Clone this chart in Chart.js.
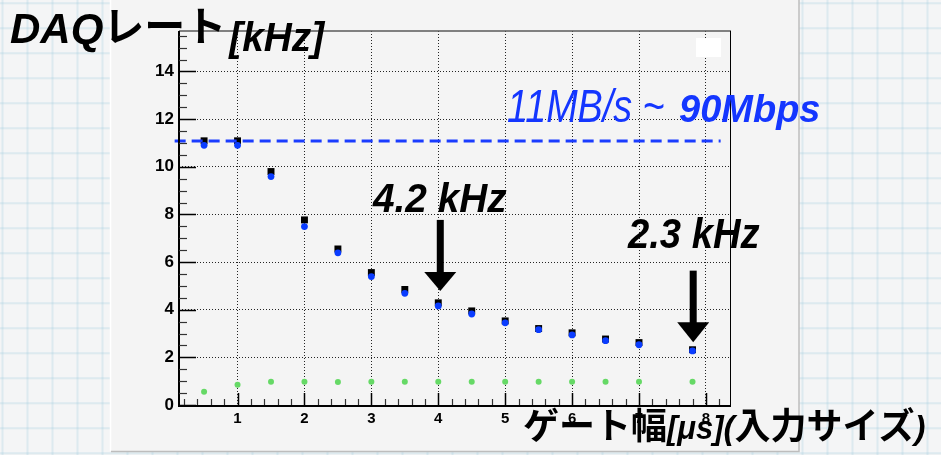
<!DOCTYPE html>
<html>
<head>
<meta charset="utf-8">
<script src="https://cdn.jsdelivr.net/npm/chart.js@4.4.1/dist/chart.umd.min.js"></script>
<style>
  html, body { margin: 0; padding: 0; background: #f4f5f6; }
  canvas { display: block; }
</style>
</head>
<body>
<canvas id="daqChart" width="941" height="455"></canvas>
<script>
// gate width [us]
const gateWidth = [0.5, 1, 1.5, 2, 2.5, 3, 3.5, 4, 4.5, 5, 5.5, 6, 6.5, 7, 7.8];
// DAQ rate [kHz]
const rateBlack = [11.09, 11.09, 9.80, 7.77, 6.55, 5.56, 4.85, 4.29, 3.95, 3.53, 3.21, 3.03, 2.77, 2.62, 2.32];
const rateBlue  = [10.90, 10.90, 9.59, 7.49, 6.39, 5.39, 4.69, 4.16, 3.82, 3.45, 3.16, 2.94, 2.70, 2.53, 2.27];
const rateGreen = [0.56, 0.85, 0.98, 0.98, 0.97, 0.98, 0.98, 0.98, 0.98, 0.98, 0.98, 0.98, 0.98, 0.98, 0.98];
// 11MB/s limit line
const limitX = [0.06, 8.22];
const limitY = [11.08, 11.08];

const xTicks = [1, 2, 3, 4, 5, 6, 7, 8];
const yTicks = [0, 2, 4, 6, 8, 10, 12, 14];

const FONT = '"Liberation Sans", Arial, sans-serif';
const CJK = '"Noto Sans CJK JP", "Noto Sans CJK SC", sans-serif';

function toPoints(xs, ys) {
    return xs.map((x, i) => ({ x: x, y: ys[i] }));
}

// draw a row of text pieces, each with its own font
function drawRun(ctx, x, y, parts, color) {
    let cx = x;
    ctx.fillStyle = color;
    ctx.textBaseline = 'alphabetic';
    ctx.textAlign = 'left';
    for (const p of parts) {
        const sx = p.sx || 1;
        ctx.save();
        ctx.font = p.font;
        ctx.translate(cx, y + (p.dy || 0));
        ctx.scale(sx, 1);
        ctx.fillText(p.text, 0, 0);
        const w = ctx.measureText(p.text).width * sx;
        ctx.restore();
        cx += w + (p.gap || 0);
    }
}

function drawArrow(ctx, x, yTop, yHead, yTip) {
    ctx.fillStyle = '#000';
    ctx.fillRect(x - 3.5, yTop, 7, yHead - yTop + 1);
    ctx.beginPath();
    ctx.moveTo(x - 16, yHead);
    ctx.lineTo(x + 16, yHead);
    ctx.lineTo(x, yTip);
    ctx.closePath();
    ctx.fill();
}

const slidePlugin = {
    id: 'slide',
    beforeDraw(chart) {
        const ctx = chart.ctx;
        const W = chart.width, H = chart.height;
        ctx.save();
        ctx.fillStyle = '#f4f5f6';
        ctx.fillRect(0, 0, W, H);
        // graph paper
        ctx.strokeStyle = 'rgba(160,205,222,0.28)';
        ctx.lineWidth = 2;
        for (let x = 2.5; x < W; x += 25) {
            ctx.beginPath(); ctx.moveTo(x, 0); ctx.lineTo(x, H); ctx.stroke();
        }
        for (let y = 3.3; y < H; y += 25) {
            ctx.beginPath(); ctx.moveTo(0, y); ctx.lineTo(W, y); ctx.stroke();
        }
        // ROOT canvas
        ctx.fillStyle = '#f4f4f4';
        ctx.fillRect(111, 0, 688, 451);
        ctx.strokeStyle = '#ffffff';
        ctx.lineWidth = 1.5;
        ctx.beginPath(); ctx.moveTo(110.5, 0); ctx.lineTo(110.5, 451); ctx.stroke();
        ctx.strokeStyle = '#bdbdbd';
        ctx.beginPath(); ctx.moveTo(799, 0); ctx.lineTo(799, 451.5); ctx.lineTo(111, 451.5); ctx.stroke();
        ctx.restore();
    },
    afterDatasetsDraw(chart) {
        const ctx = chart.ctx;
        const { left, right, top, bottom } = chart.chartArea;
        const xs = chart.scales.x, ys = chart.scales.y;
        ctx.save();
        // frame
        ctx.lineWidth = 1.5;
        ctx.strokeStyle = '#5a5a5a';
        ctx.beginPath(); ctx.moveTo(left, top); ctx.lineTo(right, top); ctx.stroke();
        ctx.lineWidth = 1;
        ctx.strokeStyle = '#000';
        ctx.beginPath(); ctx.moveTo(right - 0.5, top); ctx.lineTo(right - 0.5, bottom); ctx.stroke();
        ctx.lineWidth = 2;
        ctx.beginPath(); ctx.moveTo(left, top); ctx.lineTo(left, bottom + 1); ctx.lineTo(right, bottom + 1); ctx.stroke();

        // y ticks, inside the frame
        for (let i = 0; i <= 31; i++) {
            const v = i * 0.5;
            if (v > ys.max) break;
            const y = Math.round(ys.getPixelForValue(v)) + 0.5;
            const major = i % 4 === 0;
            ctx.strokeStyle = major ? '#000' : '#333';
            ctx.lineWidth = major ? 1.5 : 1.2;
            ctx.beginPath(); ctx.moveTo(left, y); ctx.lineTo(left + (major ? 17 : 8), y); ctx.stroke();
        }
        // x ticks
        for (let i = 1; i <= 41; i++) {
            const v = i * 0.2;
            if (v < xs.min || v > xs.max) continue;
            const x = Math.round(xs.getPixelForValue(v)) + 0.5;
            const major = i % 5 === 0;
            ctx.strokeStyle = major ? '#000' : '#333';
            ctx.lineWidth = major ? 1.5 : 1.2;
            ctx.beginPath(); ctx.moveTo(x, bottom); ctx.lineTo(x, bottom - (major ? 12 : 6)); ctx.stroke();
        }
        // empty legend box
        ctx.fillStyle = '#ffffff';
        ctx.fillRect(right - 35, top + 7, 25, 19);
        ctx.restore();
    },
    afterDraw(chart) {
        const ctx = chart.ctx;
        const xs = chart.scales.x, ys = chart.scales.y;
        ctx.save();

        // arrows
        drawArrow(ctx, xs.getPixelForValue(4.03), ys.getPixelForValue(7.77), ys.getPixelForValue(5.58), ys.getPixelForValue(4.79));
        drawArrow(ctx, xs.getPixelForValue(7.81), ys.getPixelForValue(5.64), ys.getPixelForValue(3.47), ys.getPixelForValue(2.63));

        // annotations
        drawRun(ctx, 373, 211.5, [{ text: '4.2 kHz', font: 'italic bold 40px ' + FONT, sx: 0.97 }], '#000');
        drawRun(ctx, 628, 248, [{ text: '2.3 kHz', font: 'italic bold 42px ' + FONT, sx: 0.91 }], '#000');

        drawRun(ctx, 507, 121.5, [{ text: '11MB/s ~', font: 'italic 46px ' + FONT, sx: 0.82 }], '#1436ff');
        drawRun(ctx, 679, 121.5, [{ text: '90Mbps', font: 'italic bold 38px ' + FONT, sx: 1.0 }], '#1436ff');

        // y title
        drawRun(ctx, 10, 43, [
            { text: 'DAQ', font: 'italic bold 42px ' + FONT },
            { text: 'レート', font: 'bold 41px ' + CJK, dy: -2, gap: 3 },
            { text: '[kHz]', font: 'italic bold 40px ' + FONT, sx: 0.97, dy: 8 }
        ], '#000');

        // x title
        drawRun(ctx, 523, 439, [
            { text: 'ゲート幅', font: 'bold 36px ' + CJK },
            { text: '[μs]', font: 'italic bold 33px ' + FONT, sx: 0.94, dy: 0 },
            { text: '(', font: 'italic bold 33px ' + FONT, dy: 0 },
            { text: '入力サイズ', font: 'bold 36px ' + CJK },
            { text: ')', font: 'italic bold 33px ' + FONT, dy: 0 }
        ], '#000');

        ctx.restore();
    }
};

new Chart(document.getElementById('daqChart').getContext('2d'), {
    type: 'scatter',
    data: {
        datasets: [
            {
                label: 'limit',
                type: 'line',
                data: toPoints(limitX, limitY),
                borderColor: '#1a3cff',
                borderWidth: 3,
                borderDash: [11, 6],
                pointRadius: 0,
                clip: false,
                order: 0
            },
            {
                label: 'blue',
                data: toPoints(gateWidth, rateBlue),
                pointStyle: 'circle',
                pointRadius: 3.4,
                pointBorderWidth: 0,
                backgroundColor: '#0a3cff',
                borderColor: '#0a3cff',
                order: 1
            },
            {
                label: 'black',
                data: toPoints(gateWidth, rateBlack),
                pointStyle: 'rect',
                pointRadius: 4.9,
                pointBorderWidth: 0,
                backgroundColor: '#000',
                borderColor: '#000',
                order: 2
            },
            {
                label: 'green',
                data: toPoints(gateWidth, rateGreen),
                pointStyle: 'circle',
                pointRadius: 3,
                pointBorderWidth: 0,
                backgroundColor: '#66d966',
                borderColor: '#66d966',
                order: 3
            }
        ]
    },
    options: {
        responsive: false,
        animation: false,
        layout: { padding: { left: 0, top: 31, right: 210, bottom: 0 } },
        scales: {
            x: {
                type: 'linear',
                min: 0.125,
                max: 8.375,
                afterBuildTicks: s => { s.ticks = xTicks.map(v => ({ value: v })); },
                afterFit: s => { s.height = 50; },
                grid: { color: 'rgba(0,0,0,0.85)', lineWidth: 1, drawTicks: false },
                border: { display: false, dash: [1, 2] },
                ticks: {
                    padding: 5,
                    color: '#000',
                    font: { family: 'Liberation Sans', weight: 'bold', size: 15 },
                    callback: v => String(v)
                }
            },
            y: {
                type: 'linear',
                min: 0,
                max: 15.7,
                afterBuildTicks: s => { s.ticks = yTicks.map(v => ({ value: v })); },
                afterFit: s => { s.width = 179; },
                grid: { color: 'rgba(0,0,0,0.85)', lineWidth: 1, drawTicks: false },
                border: { display: false, dash: [1, 2] },
                ticks: {
                    padding: 5,
                    color: '#000',
                    font: { family: 'Liberation Sans', weight: 'bold', size: 17 },
                    callback: v => String(v)
                }
            }
        },
        plugins: {
            legend: { display: false },
            tooltip: { enabled: false }
        }
    },
    plugins: [slidePlugin]
});
</script>
</body>
</html>
